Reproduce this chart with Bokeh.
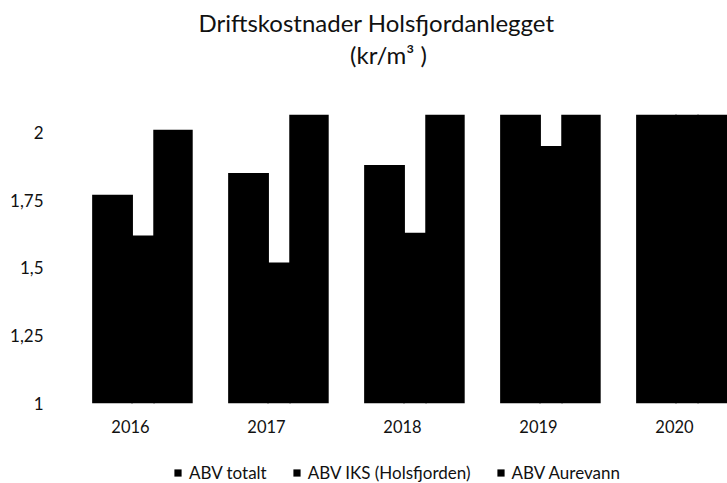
from bokeh.plotting import figure
from bokeh.models import Range1d, FixedTicker, Legend, LegendItem, Label
from bokeh.layouts import column
from bokeh.embed import file_html
from bokeh.resources import INLINE

years = ["2016", "2017", "2018", "2019", "2020"]
abv_totalt = [1.77, 1.85, 1.88, 2.10, 2.14]
abv_iks = [1.62, 1.52, 1.63, 1.95, 2.10]
abv_aurevann = [2.01, 2.12, 2.15, 2.18, 2.25]
series_names = ["ABV totalt", "ABV IKS (Holsfjorden)", "ABV Aurevann"]
y_ticks = [1, 1.25, 1.5, 1.75, 2]
y_tick_labels = ["1", "1,25", "1,5", "1,75", "2"]
title_line1 = "Driftskostnader Holsfjordanlegget"
title_line2 = "(kr/m\u00b3 )"

FONT = "Lato"
TXT = "#111111"


def bare(fig):
    fig.outline_line_color = None
    fig.xgrid.grid_line_color = None
    fig.ygrid.grid_line_color = None
    fig.background_fill_color = "white"
    fig.border_fill_color = "white"


# ---- title strip ----
pt = figure(width=727, height=100, output_backend="svg", toolbar_location=None,
            x_range=Range1d(0, 1), y_range=Range1d(0, 1),
            x_axis_type=None, y_axis_type=None,
            min_border_left=0, min_border_right=0, min_border_top=0, min_border_bottom=0)
bare(pt)
pt.add_layout(Label(x=314, y=78, x_units="screen", y_units="screen", text=title_line1,
                    text_align="center", text_baseline="alphabetic", text_font=FONT,
                    text_font_size="24px", text_color=TXT))
pt.add_layout(Label(x=326, y=46, x_units="screen", y_units="screen", text=title_line2,
                    text_align="center", text_baseline="alphabetic", text_font=FONT,
                    text_font_size="24px", text_color=TXT))

# ---- main chart ----
p = figure(width=727, height=355, output_backend="svg", toolbar_location=None,
           x_range=Range1d(-0.5, 4.39), y_range=Range1d(1, 2.066),
           min_border_left=62, min_border_right=0, min_border_top=14, min_border_bottom=52)
bare(p)

idx = list(range(len(years)))
offsets = [-0.132, 0.092, 0.3125]
widths = [0.30, 0.175, 0.29]
series = [abv_totalt, abv_iks, abv_aurevann]
for vals, off, w in zip(series, offsets, widths):
    xs = [i + off for i in idx]
    p.vbar(x=xs, top=vals, bottom=1, width=w, fill_color="black", line_color=None)

for ax in (p.xaxis[0], p.yaxis[0]):
    ax.axis_line_color = None
    ax.major_tick_line_color = None
    ax.minor_tick_line_color = None
    ax.major_tick_out = 0
    ax.major_tick_in = 0
    ax.major_label_text_font = FONT
    ax.major_label_text_color = TXT

p.yaxis.major_label_text_font_size = "17px"
p.xaxis.major_label_text_font_size = "16.5px"
p.yaxis.ticker = FixedTicker(ticks=y_ticks)
p.yaxis.major_label_overrides = {t: l for t, l in zip(y_ticks, y_tick_labels)}
p.yaxis.major_label_standoff = 19
p.xaxis.ticker = FixedTicker(ticks=idx)
p.xaxis.major_label_overrides = {i: y for i, y in zip(idx, years)}
p.xaxis.major_label_standoff = 16

# ---- legend strip ----
pl = figure(width=727, height=28, output_backend="svg", toolbar_location=None,
            x_range=Range1d(0, 1), y_range=Range1d(0, 1),
            x_axis_type=None, y_axis_type=None,
            min_border_left=0, min_border_right=0, min_border_top=0, min_border_bottom=0)
bare(pl)
keys = []
for n, vals, off, w in zip(series_names, series, offsets, widths):
    r = pl.vbar(x=[i + off for i in idx], top=vals, bottom=1, width=w,
                fill_color="black", line_color=None, visible=False)
    keys.append(LegendItem(label=n, renderers=[r]))
legend = Legend(items=keys, orientation="horizontal", location=(111, 0),
                glyph_width=9, glyph_height=9, label_height=18, label_standoff=7,
                spacing=25, padding=0, margin=0, border_line_color=None,
                background_fill_alpha=0, inactive_fill_alpha=0,
                label_text_font=FONT, label_text_font_size="17px", label_text_color=TXT)
pl.add_layout(legend, "center")

layout = column(pt, p, pl, spacing=0)
open("out.html", "w").write(file_html(layout, INLINE))
